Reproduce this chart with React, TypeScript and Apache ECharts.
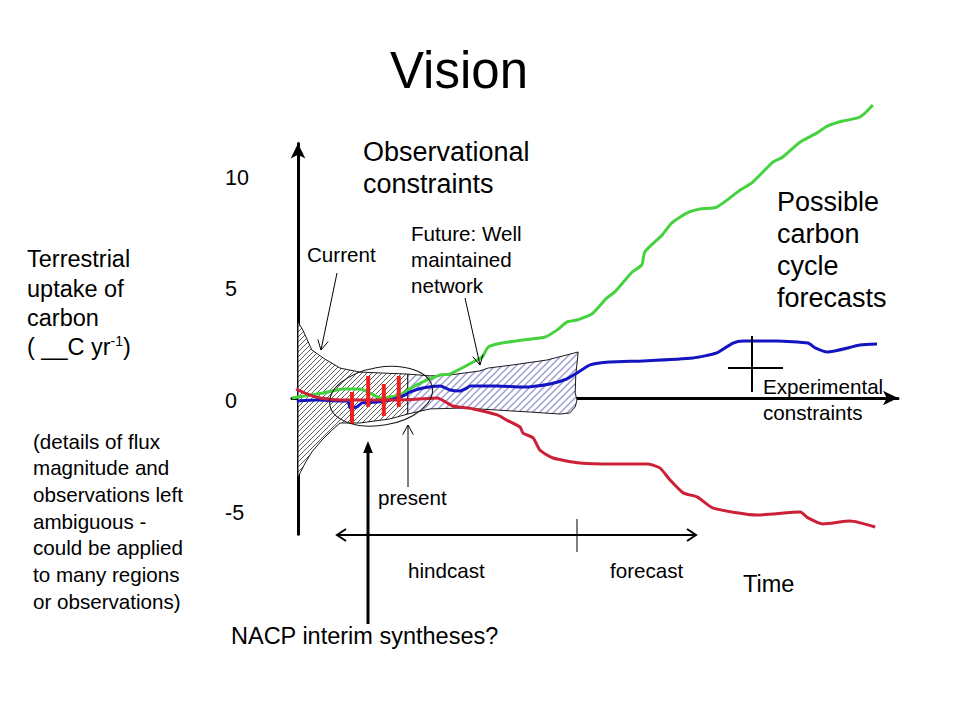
import React, { useEffect, useRef } from 'react';
import * as echarts from 'echarts';

const FONT = '"Liberation Sans", Arial, Helvetica, sans-serif';

// y-axis tick labels (Terrestrial uptake of carbon)
const yTickValues = [-5, 0, 5, 10];

// Possible carbon cycle forecasts: [time, uptake]
const greenForecast: [number, number][] = [
  [-1.0, 0.0], [2.0, 0.13], [4.2, 0.22], [7.5, 0.4], [10.3, 0.4], [12.0, 0.22], [13.7, 0.0],
  [15.3, 0.04], [17.0, 0.13], [18.3, 0.36], [20.8, 0.72], [23.7, 1.03], [25.3, 1.07],
  [29.2, 1.61], [30.7, 1.84], [31.7, 2.28], [33.2, 2.42], [37.5, 2.6], [41.2, 2.73],
  [43.2, 3.05], [44.8, 3.4], [46.5, 3.49], [48.7, 3.72], [49.2, 3.81], [51.5, 4.48],
  [52.8, 4.75], [55.7, 5.64], [57.3, 5.96], [57.8, 6.54], [60.7, 7.3], [62.3, 7.84],
  [64.8, 8.28], [67.0, 8.46], [69.8, 8.55], [73.7, 9.31], [75.8, 9.67], [79.2, 10.57],
  [80.8, 10.79], [83.7, 11.46], [86.5, 11.87], [88.3, 12.18], [90.8, 12.4], [93.3, 12.54],
  [94.5, 12.76], [95.8, 13.12],
];

const blueForecast: [number, number][] = [
  [-0.2, -0.13], [3.2, -0.09], [7.0, -0.13], [8.3, -0.13], [8.7, -0.45], [9.8, -0.4],
  [10.7, -0.22], [13.2, -0.18], [15.3, -0.09], [17.5, 0.09], [18.7, 0.27], [20.8, 0.45],
  [23.7, 0.54], [25.3, 0.36], [27.0, 0.31], [28.2, 0.45], [28.7, 0.54], [33.2, 0.54],
  [37.5, 0.49], [42.0, 0.63], [44.8, 0.85], [46.5, 1.12], [48.7, 1.48], [52.0, 1.61],
  [57.5, 1.66], [65.8, 1.79], [69.8, 2.02], [72.5, 2.46], [74.2, 2.55], [79.8, 2.55],
  [85.0, 2.46], [86.2, 2.24], [88.2, 2.06], [93.7, 2.37], [96.5, 2.42],
];

const redForecast: [number, number][] = [
  [-0.3, 0.4], [2.0, 0.13], [3.7, 0.0], [7.0, -0.09], [9.8, -0.09], [17.0, -0.09],
  [20.8, -0.04], [23.2, 0.0], [25.8, -0.36], [29.2, -0.49], [33.2, -0.76], [34.8, -0.99],
  [37.0, -1.3], [37.5, -1.57], [39.2, -1.79], [40.3, -2.33], [42.5, -2.69], [47.0, -2.91],
  [52.5, -2.96], [58.2, -2.96], [60.3, -3.13], [62.0, -3.67], [64.2, -4.25], [66.5, -4.43],
  [69.2, -4.93], [76.5, -5.24], [83.7, -5.11], [85.0, -5.37], [87.5, -5.64], [92.0, -5.51],
  [96.2, -5.78],
];

// Observational error bars: [time, low, high]
const errorBars: [number, number, number][] = [
  [9.0, -1.16, 0.27],
  [11.7, -0.4, 0.99],
  [14.3, -0.81, 0.63],
  [16.8, -0.4, 0.99],
];

// "Current" constraint envelope
const currentRegion: [number, number][] = [
  [0, 3.4], [0.8, 3.05], [2.3, 2.15], [4.2, 1.79], [7.0, 1.34], [10.3, 1.16], [13.7, 1.12],
  [18.3, 1.07], [18.3, -0.72], [15.3, -0.94], [10.3, -1.12], [7.0, -1.12], [5.7, -1.43],
  [4.0, -1.88], [2.3, -2.42], [1.2, -2.91], [0, -3.54],
];

// "Future: well maintained network" envelope
const futureRegion: [number, number][] = [
  [18.3, 1.07], [22.0, 0.99], [25.3, 1.03], [30.3, 1.21], [31.7, 1.34], [35.8, 1.48],
  [41.5, 1.7], [46.7, 2.06], [46.3, 1.03], [46.2, 0.22], [46.5, -0.09], [46.2, -0.4],
  [45.3, -0.67], [43.7, -0.72], [38.7, -0.63], [33.2, -0.54], [27.5, -0.45], [22.0, -0.49],
  [18.3, -0.72],
];

function hatch(size: number, color: string, lw: number) {
  const c = document.createElement('canvas');
  c.width = size;
  c.height = size;
  const ctx = c.getContext('2d')!;
  ctx.fillStyle = '#ffffff';
  ctx.fillRect(0, 0, size, size);
  ctx.strokeStyle = color;
  ctx.lineWidth = lw;
  ctx.beginPath();
  ctx.moveTo(0, size);
  ctx.lineTo(size, 0);
  ctx.moveTo(-size / 2, size / 2);
  ctx.lineTo(size / 2, -size / 2);
  ctx.moveTo(size / 2, size * 1.5);
  ctx.lineTo(size * 1.5, size / 2);
  ctx.stroke();
  return { image: c, repeat: 'repeat', imageWidth: size, imageHeight: size };
}

function arrowEls(x1: number, y1: number, x2: number, y2: number, lw: number, head: number, filled = false) {
  const a = Math.atan2(y2 - y1, x2 - x1);
  const spread = filled ? 0.38 : 0.5;
  const p1 = [x2 - head * Math.cos(a - spread), y2 - head * Math.sin(a - spread)];
  const p2 = [x2 - head * Math.cos(a + spread), y2 - head * Math.sin(a + spread)];
  const ex = filled ? x2 - head * 0.8 * Math.cos(a) : x2;
  const ey = filled ? y2 - head * 0.8 * Math.sin(a) : y2;
  const els: any[] = [
    { type: 'line', z: 50, shape: { x1, y1, x2: ex, y2: ey }, style: { stroke: '#000', lineWidth: lw } },
  ];
  if (filled) {
    els.push({ type: 'polygon', z: 50, shape: { points: [[x2, y2], p1, p2] }, style: { fill: '#000' } });
  } else {
    els.push({ type: 'polyline', z: 50, shape: { points: [p1, [x2, y2], p2] }, style: { stroke: '#000', lineWidth: lw, fill: 'none' } });
  }
  return els;
}

function textLines(lines: string[], x: number, y0: number, step: number, size: number) {
  return lines.map((t, i) => ({
    type: 'text',
    z: 60,
    x,
    y: y0 + i * step,
    style: {
      text: t,
      fill: '#000',
      font: `${size}px ${FONT}`,
      textAlign: 'left',
      textVerticalAlign: 'middle',
      align: 'left',
      verticalAlign: 'middle',
    },
  }));
}

export default function App() {
  const ref = useRef<HTMLDivElement>(null);

  useEffect(() => {
    if (!ref.current) return;
    const chart = echarts.init(ref.current, undefined, { renderer: 'svg' });

    const currentHatch = hatch(5, '#606060', 1);
    const futureHatch = hatch(7, '#9a9ad4', 1.4);

    const regionSeries = (name: string, region: [number, number][], fill: any) => ({
      type: 'custom',
      name,
      data: region,
      z: 2,
      clip: false,
      silent: true,
      renderItem: (params: any, api: any) => {
        if (params.dataIndex !== 0) return null;
        const pts = region.map((p) => api.coord(p));
        return {
          type: 'polygon',
          shape: { points: pts },
          style: { fill, stroke: '#1a1a1a', lineWidth: 1 },
        };
      },
    });

    const lineSeries = (name: string, data: [number, number][], color: string) => ({
      type: 'line',
      name,
      data,
      symbol: 'none',
      showSymbol: false,
      smooth: 0.2,
      clip: false,
      z: 3,
      silent: true,
      lineStyle: { color, width: 3 },
    });

    const SMALL = 20.6;
    const MED = 23.5;
    const BIG = 27;

    const graphics: any[] = [
      // title
      {
        type: 'text', z: 60, x: 459, y: 70,
        style: { text: 'Vision', fill: '#000', font: `51px ${FONT}`, textAlign: 'center', textVerticalAlign: 'middle', align: 'center', verticalAlign: 'middle' },
      },
      ...textLines(['Observational', 'constraints'], 363, 152, 32, BIG),
      ...textLines(['Possible', 'carbon', 'cycle', 'forecasts'], 777, 202, 32, BIG),
      ...textLines(['Terrestrial', 'uptake of', 'carbon'], 27, 259, 29.5, MED),
      {
        type: 'text', z: 60, x: 27, y: 347,
        style: {
          text: '{n|( __C yr}{s|-1}{n|)}',
          fill: '#000',
          textAlign: 'left', textVerticalAlign: 'middle', align: 'left', verticalAlign: 'middle',
          rich: {
            n: { fontSize: MED, fontFamily: FONT, lineHeight: 26, fill: '#000' },
            s: { fontSize: 14, fontFamily: FONT, lineHeight: 14, verticalAlign: 'top', fill: '#000' },
          },
        },
      },
      ...textLines(
        ['(details of flux', 'magnitude and', 'observations left', 'ambiguous -', 'could be applied', 'to many regions', 'or observations)'],
        33, 441, 26.67, SMALL,
      ),
      ...textLines(['Current'], 307, 254, 26, SMALL),
      ...textLines(['Future: Well', 'maintained', 'network'], 411, 233, 26, SMALL),
      ...textLines(['Experimental', 'constraints'], 763, 386, 26, SMALL),
      ...textLines(['present'], 378, 497, 26, SMALL),
      ...textLines(['hindcast'], 408, 570, 26, SMALL),
      ...textLines(['forecast'], 610, 570, 26, SMALL),
      ...textLines(['Time'], 743, 584, 26, MED),
      ...textLines(['NACP interim syntheses?'], 231, 636, 26, MED),
      // annotation arrows
      ...arrowEls(337, 273, 321, 350, 1, 11),
      ...arrowEls(465, 298, 480, 365, 1, 11),
      ...arrowEls(408, 487, 408, 425, 1, 11),
      ...arrowEls(368, 624, 368, 441, 3, 13, true),
      // timeline double arrow
      { type: 'line', z: 50, shape: { x1: 337, y1: 535, x2: 696, y2: 535 }, style: { stroke: '#000', lineWidth: 2 } },
      { type: 'polyline', z: 50, shape: { points: [[346, 529], [337, 535], [346, 541]] }, style: { stroke: '#000', lineWidth: 2, fill: 'none' } },
      { type: 'polyline', z: 50, shape: { points: [[687, 529], [696, 535], [687, 541]] }, style: { stroke: '#000', lineWidth: 2, fill: 'none' } },
      { type: 'line', z: 50, shape: { x1: 577, y1: 519, x2: 577, y2: 552 }, style: { stroke: '#000', lineWidth: 1 } },
      // experimental constraint cross
      { type: 'line', z: 50, shape: { x1: 752, y1: 336, x2: 752, y2: 392 }, style: { stroke: '#000', lineWidth: 2 } },
      { type: 'line', z: 50, shape: { x1: 728, y1: 368, x2: 783, y2: 368 }, style: { stroke: '#000', lineWidth: 2 } },
      // current observational ellipse
      {
        type: 'ellipse', z: 40, shape: { cx: 381, cy: 396, rx: 52, ry: 29 },
        rotation: 0.17, originX: 381, originY: 396,
        style: { fill: 'none', stroke: '#1a1a1a', lineWidth: 1 },
      },
    ];

    chart.setOption({
      animation: false,
      backgroundColor: '#ffffff',
      grid: { left: 292, right: 62, top: 143.4, bottom: 185.8, containLabel: false },
      xAxis: {
        type: 'value',
        min: -1,
        max: 100,
        axisLine: { show: true, onZero: true, symbol: ['none', 'arrow'], symbolSize: [11, 15], lineStyle: { color: '#000', width: 3 } },
        axisTick: { show: false },
        axisLabel: { show: false },
        splitLine: { show: false },
      },
      yAxis: {
        type: 'value',
        min: -6.1,
        max: 11.4,
        axisLine: { show: true, onZero: true, symbol: ['none', 'arrow'], symbolSize: [11, 15], lineStyle: { color: '#000', width: 3 } },
        axisTick: { show: false },
        splitLine: { show: false },
        axisLabel: {
          customValues: yTickValues,
          align: 'left',
          verticalAlign: 'top',
          lineHeight: 6,
          margin: 67,
          fontSize: 21.5,
          fontFamily: FONT,
          color: '#000',
        },
      },
      series: [
        regionSeries('Current', currentRegion, currentHatch),
        regionSeries('Future', futureRegion, futureHatch),
        lineSeries('High uptake', greenForecast, '#45d23f'),
        lineSeries('Medium uptake', blueForecast, '#1414c0'),
        lineSeries('Low uptake', redForecast, '#cc2036'),
        {
          type: 'custom',
          name: 'Observations',
          data: errorBars,
          z: 5,
          clip: false,
          silent: true,
          renderItem: (params: any, api: any) => {
            const x = api.value(0);
            const a = api.coord([x, api.value(1)]);
            const b = api.coord([x, api.value(2)]);
            return {
              type: 'line',
              shape: { x1: a[0], y1: a[1], x2: b[0], y2: b[1] },
              style: { stroke: '#f0201e', lineWidth: 4 },
            };
          },
        },
      ],
      graphic: { elements: graphics },
    });

    return () => chart.dispose();
  }, []);

  return (
    <div
      ref={ref}
      style={{ position: 'fixed', left: 0, top: 0, width: 960, height: 720, background: '#fff' }}
    />
  );
}
